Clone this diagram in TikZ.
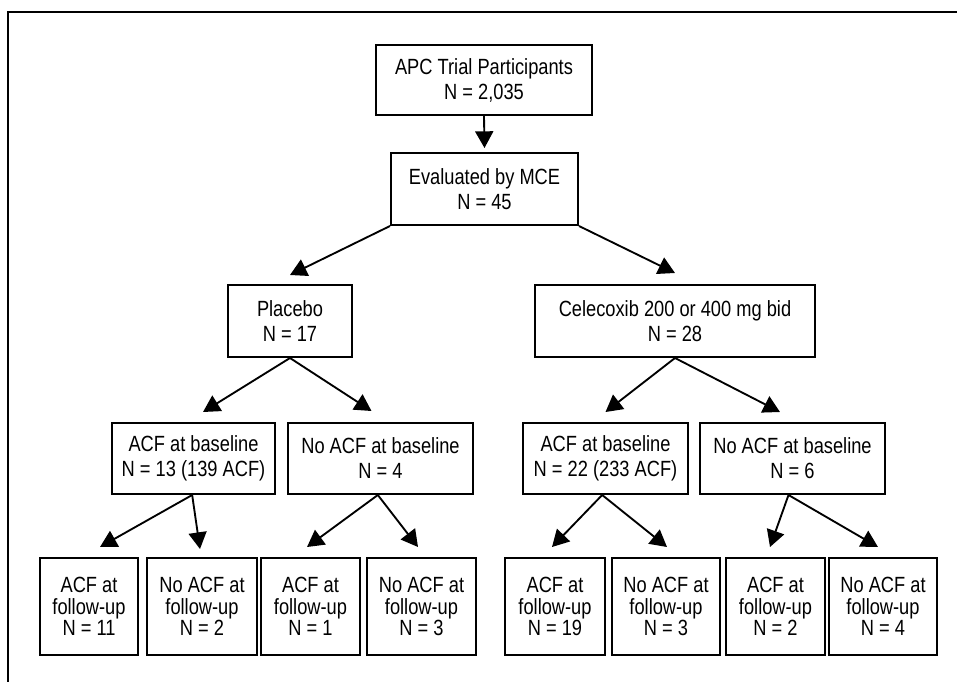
\documentclass[tikz,border=0pt]{standalone}
\usepackage{fontspec}
\setmainfont{Liberation Sans}[FakeStretch=0.83]
\usetikzlibrary{arrows.meta}
\begin{document}
\begin{tikzpicture}[x=0.75pt,y=-0.75pt,
  box/.style={draw, line width=1.5pt, inner sep=0pt, align=center,
    font=\fontsize{16.5}{18.75}\selectfont},
  fbox/.style={box, font=\fontsize{16.5}{16.3}\selectfont},
  sz/.style 2 args={minimum width=#1*0.75pt, minimum height=#2*0.75pt},
  arr/.style={line width=1.4pt, -{Triangle[length=12.5pt,width=13.5pt]}},
  frame/.style={line width=1.2pt}]
\useasboundingbox (0,0) rectangle (957,682);
\draw[frame] (8,682) -- (8,12) -- (957,12);

\node[box, sz={216}{70}] (apc) at (484,80) {APC Trial Participants\\N = 2,035};
\node[box, sz={187}{72}] (eval) at (484.5,189) {Evaluated by MCE\\N = 45};
\node[box, sz={124}{72}] (plac) at (290,321) {Placebo\\N = 17};
\node[box, sz={280}{72}] (cele) at (675,321) {Celecoxib 200 or 400 mg bid\\N = 28};

\node[box, sz={163}{71}] (b1) at (193.5,458.5) {ACF at baseline\\N = 13 (139 ACF)};
\node[box, sz={185}{71}] (b2) at (380.5,458.5) {No ACF at baseline\\N = 4};
\node[box, sz={165}{71}] (b3) at (605.5,458.5) {ACF at baseline\\N = 22 (233 ACF)};
\node[box, sz={185}{71}] (b4) at (792.5,458.5) {No ACF at baseline\\N = 6};

\node[fbox, sz={98}{97}]  (f1) at (89,606.5)  {ACF at\\follow-up\\N = 11};
\node[fbox, sz={110}{97}] (f2) at (202,606.5) {No ACF at\\follow-up\\N = 2};
\node[fbox, sz={99}{97}]  (f3) at (310.5,606.5) {ACF at\\follow-up\\N = 1};
\node[fbox, sz={109}{97}] (f4) at (421.5,606.5) {No ACF at\\follow-up\\N = 3};
\node[fbox, sz={100}{97}] (f5) at (555,606.5) {ACF at\\follow-up\\N = 19};
\node[fbox, sz={108}{97}] (f6) at (666,606.5) {No ACF at\\follow-up\\N = 3};
\node[fbox, sz={99}{97}]  (f7) at (775.5,606.5) {ACF at\\follow-up\\N = 2};
\node[fbox, sz={108}{97}] (f8) at (883,606.5) {No ACF at\\follow-up\\N = 4};

\draw[arr] (apc.south) -- ([shift={(0,-4)}]eval.north);
\draw[arr] (eval.south west) -- ([shift={(0,-9)}]plac.north);
\draw[arr] (eval.south east) -- ([shift={(0,-11)}]cele.north);

\draw[arr] (plac.south) -- ([shift={(9.5,-10)}]b1.north);
\draw[arr] (plac.south) -- ([shift={(-9,-11)}]b2.north);
\draw[arr] (cele.south) -- ([shift={(0,-10)}]b3.north);
\draw[arr] (cele.south) -- ([shift={(-12.5,-10)}]b4.north);

\draw[arr] ([xshift=-1pt]b1.south) -- ([shift={(11,-10)}]f1.north);
\draw[arr] ([xshift=-1pt]b1.south) -- ([shift={(-2,-8)}]f2.north);
\draw[arr] ([xshift=-2pt]b2.south) -- ([shift={(-3.5,-10)}]f3.north);
\draw[arr] ([xshift=-2pt]b2.south) -- ([shift={(-3.5,-10)}]f4.north);
\draw[arr] ([xshift=-2.5pt]b3.south) -- ([shift={(-3,-10)}]f5.north);
\draw[arr] ([xshift=-2.5pt]b3.south) -- ([shift={(1,-10)}]f6.north);
\draw[arr] ([xshift=-3pt]b4.south) -- ([shift={(-5.5,-10)}]f7.north);
\draw[arr] ([xshift=-3pt]b4.south) -- ([shift={(-5,-10)}]f8.north);
\end{tikzpicture}
\end{document}
